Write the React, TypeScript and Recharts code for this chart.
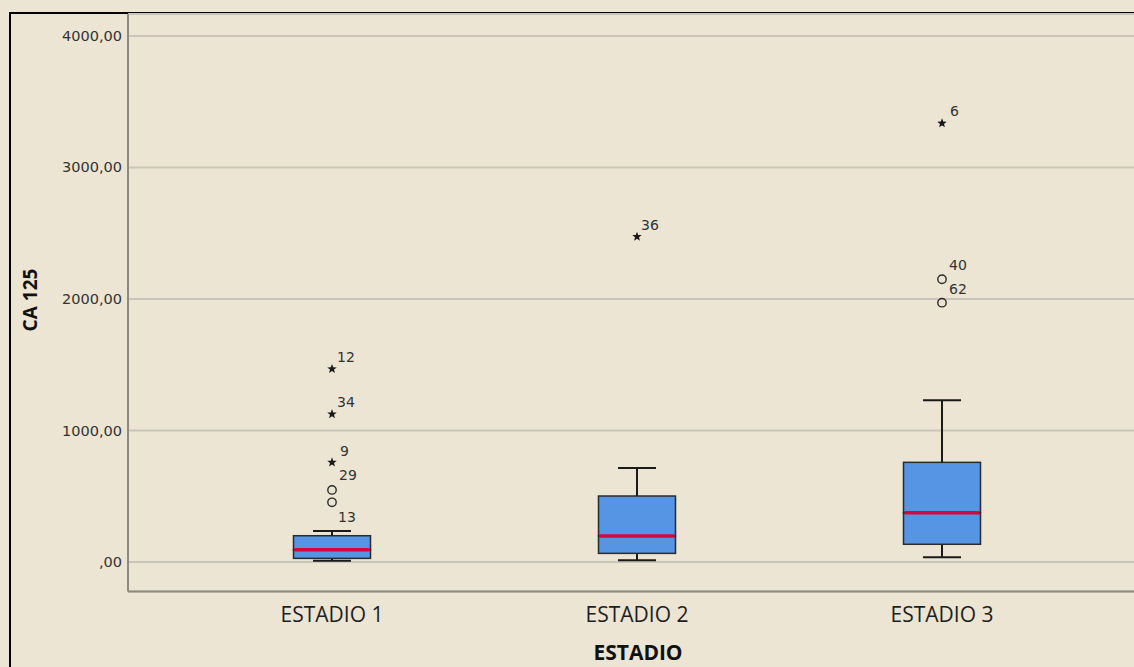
import { ComposedChart, Bar, Scatter, XAxis, YAxis, CartesianGrid } from 'recharts'

// box statistics per stage (CA 125)
const categories = ['ESTADIO 1', 'ESTADIO 2', 'ESTADIO 3']
const mins = [10, 13, 36]
const q1s = [28, 66, 135]
const medians = [94, 198, 375]
const q3s = [200, 502, 758]
const maxes = [236, 715, 1230]

// outliers (circle) and extremes (star), with case numbers
const outlierGroups = ['ESTADIO 1', 'ESTADIO 1', 'ESTADIO 1', 'ESTADIO 1', 'ESTADIO 1', 'ESTADIO 2', 'ESTADIO 3', 'ESTADIO 3', 'ESTADIO 3']
const outlierValues = [1468, 1125, 758, 548, 454, 2474, 3336, 2150, 1972]
const outlierIds = ['12', '34', '9', '29', '13', '36', '6', '40', '62']
const outlierExtreme = [true, true, true, false, false, true, true, false, false]

const yTicks = [0, 1000, 2000, 3000, 4000]

const BG = '#ECE5D3'
const BOX_FILL = '#5595E4'
const MEDIAN = '#D6063F'
const INK = '#1a1a1a'

// where each case label sits relative to its marker
const labelNudge: Record<string, [number, number]> = {
  '12': [5, -7],
  '34': [5, -7],
  '9': [8, -6],
  '29': [7, -10],
  '13': [6, 20],
  '36': [4, -7],
  '6': [8, -7],
  '40': [7, -9],
  '62': [7, -9],
}

const boxData = categories.map((name, i) => ({
  name,
  base: mins[i],
  lowWhisker: q1s[i] - mins[i],
  lowBox: medians[i] - q1s[i],
  highBox: q3s[i] - medians[i],
  highWhisker: maxes[i] - q3s[i],
}))

const outlierData = outlierValues.map((value, i) => ({
  name: outlierGroups[i],
  value,
  id: outlierIds[i],
  extreme: outlierExtreme[i],
}))

const CAP = 38

function LowWhisker(props: any) {
  const { x, y, width, height } = props
  const cx = x + width / 2
  return (
    <g stroke={INK} strokeWidth={2}>
      <line x1={cx} x2={cx} y1={y} y2={y + height} />
      <line x1={cx - CAP / 2} x2={cx + CAP / 2} y1={y + height} y2={y + height} />
    </g>
  )
}

function HighWhisker(props: any) {
  const { x, y, width, height } = props
  const cx = x + width / 2
  return (
    <g stroke={INK} strokeWidth={2}>
      <line x1={cx} x2={cx} y1={y} y2={y + height} />
      <line x1={cx - CAP / 2} x2={cx + CAP / 2} y1={y} y2={y} />
    </g>
  )
}

function LowBox(props: any) {
  const { x, y, width, height } = props
  return <rect x={x} y={y} width={width} height={height} fill={BOX_FILL} stroke="#2b2b2b" strokeWidth={1.5} />
}

function HighBox(props: any) {
  const { x, y, width, height } = props
  return (
    <g>
      <rect x={x} y={y} width={width} height={height} fill={BOX_FILL} stroke="#2b2b2b" strokeWidth={1.5} />
      <line x1={x + 1} x2={x + width - 1} y1={y + height} y2={y + height} stroke={MEDIAN} strokeWidth={3.5} />
    </g>
  )
}

function starPath(cx: number, cy: number, ro: number, ri: number) {
  let d = ''
  for (let k = 0; k < 10; k++) {
    const r = k % 2 === 0 ? ro : ri
    const a = -Math.PI / 2 + (k * Math.PI) / 5
    d += (k === 0 ? 'M' : 'L') + (cx + r * Math.cos(a)).toFixed(2) + ',' + (cy + r * Math.sin(a)).toFixed(2)
  }
  return d + 'Z'
}

function OutlierMark(props: any) {
  const { cx, cy, payload } = props
  if (cx == null || cy == null) return null
  const [dx, dy] = labelNudge[payload.id] || [6, -8]
  return (
    <g>
      {payload.extreme ? (
        <path d={starPath(cx, cy, 5, 2.1)} fill={INK} />
      ) : (
        <circle cx={cx} cy={cy} r={4.2} fill="none" stroke="#2b2b2b" strokeWidth={1.4} />
      )}
      <text x={cx + dx} y={cy + dy} fontSize={14} fill="#333" fontFamily="DejaVu Sans, sans-serif">
        {payload.id}
      </text>
    </g>
  )
}

function CategoryTick(props: any) {
  const { x, y, payload } = props
  return (
    <text x={x} y={y + 28} textAnchor="middle" fontSize={21} fill="#1e1e1e" fontFamily="'Open Sans', sans-serif">
      {payload.value}
    </text>
  )
}

function ValueTick(props: any) {
  const { x, y, payload } = props
  const label = payload.value === 0 ? ',00' : `${payload.value},00`
  return (
    <text x={x} y={y + 5} textAnchor="end" fontSize={14.5} fill="#333" fontFamily="DejaVu Sans, sans-serif">
      {label}
    </text>
  )
}

export default function App() {
  return (
    <div style={{ position: 'absolute', left: 0, top: 0, width: 1134, height: 667, overflow: 'hidden', background: BG }}>
      <div
        style={{
          position: 'absolute',
          left: 9,
          top: 12,
          width: 1200,
          height: 700,
          borderLeft: '2px solid #000',
          borderTop: '2px solid #000',
        }}
      />
      <div style={{ position: 'absolute', left: 0, top: 0 }}>
        <ComposedChart
          width={1134}
          height={667}
          data={boxData}
          margin={{ top: 14, right: 0, bottom: 35.5, left: 0 }}
        >
          <CartesianGrid horizontal vertical={false} stroke="#C9C5BB" strokeWidth={2} />
          <XAxis
            dataKey="name"
            type="category"
            allowDuplicatedCategory={false}
            height={40}
            padding={{ left: 51.5, right: 39.5 }}
            axisLine={{ stroke: '#8E8A7F', strokeWidth: 2 }}
            tickLine={false}
            tickSize={0}
            tick={<CategoryTick />}
            interval={0}
          />
          <YAxis
            type="number"
            width={128}
            domain={[-224, 4167]}
            allowDataOverflow
            ticks={yTicks}
            axisLine={{ stroke: '#8E8A7F', strokeWidth: 2 }}
            tickLine={false}
            tickSize={0}
            tickMargin={6}
            tick={<ValueTick />}
          />
          <Bar dataKey="base" stackId="box" barSize={77} fill="none" isAnimationActive={false} />
          <Bar dataKey="lowWhisker" stackId="box" barSize={77} shape={<LowWhisker />} isAnimationActive={false} />
          <Bar dataKey="lowBox" stackId="box" barSize={77} shape={<LowBox />} isAnimationActive={false} />
          <Bar dataKey="highBox" stackId="box" barSize={77} shape={<HighBox />} isAnimationActive={false} />
          <Bar dataKey="highWhisker" stackId="box" barSize={77} shape={<HighWhisker />} isAnimationActive={false} />
          <Scatter data={outlierData} dataKey="value" shape={<OutlierMark />} isAnimationActive={false} />
        </ComposedChart>
      </div>
      <div
        style={{
          position: 'absolute',
          left: 30,
          top: 300,
          transform: 'translate(-50%, -50%) rotate(-90deg)',
          fontFamily: "'Open Sans', sans-serif",
          fontWeight: 700,
          fontSize: 19,
          color: '#111',
          whiteSpace: 'nowrap',
        }}
      >
        CA 125
      </div>
      <div
        style={{
          position: 'absolute',
          left: 638,
          top: 652,
          lineHeight: 1,
          transform: 'translate(-50%, -50%)',
          fontFamily: "'Open Sans', sans-serif",
          fontWeight: 700,
          fontSize: 21,
          color: '#111',
          whiteSpace: 'nowrap',
        }}
      >
        ESTADIO
      </div>
    </div>
  )
}
